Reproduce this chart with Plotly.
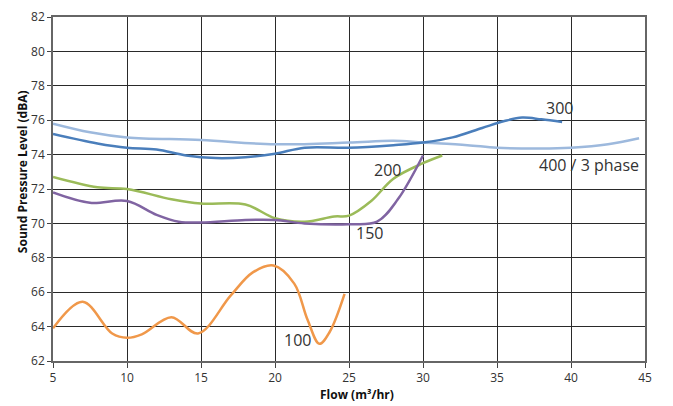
import plotly.graph_objects as go

# 400 / 3 phase
x400 = [5, 7.5, 10, 15, 20, 25, 28, 30, 33, 35, 38, 40, 42.5, 44.6]
y400 = [75.8, 75.3, 75.0, 74.85, 74.6, 74.7, 74.8, 74.7, 74.55, 74.4, 74.35, 74.4, 74.6, 74.95]

# 300
x300 = [5, 8, 10, 12, 14, 16, 18, 20, 22, 25, 28, 30, 32, 34, 35.5, 36.7, 38, 39.4]
y300 = [75.2, 74.65, 74.4, 74.3, 73.95, 73.8, 73.85, 74.05, 74.4, 74.4, 74.55, 74.7, 75.0, 75.55, 75.95, 76.15, 76.05, 75.9]

# 200
x200 = [5, 8, 10, 13, 15, 18, 20, 22, 24, 25, 26.5, 28, 30, 31.3]
y200 = [72.7, 72.1, 72.0, 71.4, 71.15, 71.1, 70.3, 70.1, 70.4, 70.45, 71.3, 72.6, 73.5, 73.95]

# 150
x150 = [5, 7.5, 10, 12, 13.5, 15, 18, 20, 22, 25, 26.9, 28.3, 30]
y150 = [71.8, 71.2, 71.3, 70.5, 70.1, 70.05, 70.2, 70.2, 70.0, 69.95, 70.1, 71.4, 73.95]

# 100
x100 = [5, 7, 9, 10, 11, 13, 14.8, 17, 18.5, 19.9, 21.3, 22.2, 23.0, 23.7, 24.7]
y100 = [63.9, 65.45, 63.6, 63.35, 63.55, 64.55, 63.6, 65.8, 67.15, 67.55, 66.5, 64.4, 63.0, 63.7, 65.9]

series = [
    (x400, y400, "#9db9dd", "400 / 3 phase"),
    (x300, y300, "#4a7ebb", "300"),
    (x200, y200, "#9bbb59", "200"),
    (x150, y150, "#8064a2", "150"),
    (x100, y100, "#f0984a", "100"),
]

labels = ["300", "400 / 3 phase", "200", "150", "100"]
label_x = [39.2, 41.2, 27.6, 26.4, 21.55]
label_y = [76.7, 73.4, 73.1, 69.45, 63.2]

x_ticks = [5, 10, 15, 20, 25, 30, 35, 40, 45]
y_ticks = [62, 64, 66, 68, 70, 72, 74, 76, 78, 80, 82]

FONT = "Open Sans, Noto Sans, sans-serif"

fig = go.Figure()
for xs, ys, col, name in series:
    fig.add_trace(go.Scatter(x=xs, y=ys, mode="lines", name=name,
                             line=dict(color=col, width=2.5, shape="spline", smoothing=1.0)))

for t, ax_, ay_ in zip(labels, label_x, label_y):
    fig.add_annotation(x=ax_, y=ay_, text=t, showarrow=False,
                       font=dict(size=16, color="#333333", family=FONT))

# axis titles
fig.add_annotation(xref="paper", yref="paper", x=0.5135, y=0, yanchor="middle", yshift=-33,
                   text="<b>Flow (m³/hr)</b>", showarrow=False,
                   font=dict(size=12, color="#111111", family=FONT))
fig.add_annotation(xref="paper", yref="paper", x=0, y=0.549, xanchor="center", yanchor="middle",
                   xshift=-31, textangle=-90,
                   text="<b>Sound Pressure Level (dBA)</b>", showarrow=False,
                   font=dict(size=12, color="#111111", family=FONT))

fig.update_layout(
    width=665, height=398,
    margin=dict(l=45, r=28, t=9, b=45),
    paper_bgcolor="white", plot_bgcolor="white",
    showlegend=False,
    font=dict(family=FONT, color="#333333"),
)
fig.update_xaxes(
    range=[5, 45], tickvals=x_ticks, ticktext=[str(v) for v in x_ticks],
    showgrid=True, gridcolor="#2a2a2a", gridwidth=1,
    showline=True, linecolor="#666666", linewidth=1.5, mirror=True,
    ticks="outside", ticklen=5, tickcolor="#444444",
    tickfont=dict(size=12, color="#333333"),
    zeroline=False, automargin=False,
)
fig.update_yaxes(
    range=[62, 82], tickvals=y_ticks, ticktext=[str(v) for v in y_ticks],
    showgrid=True, gridcolor="#2a2a2a", gridwidth=1,
    showline=True, linecolor="#666666", linewidth=1.5, mirror=True,
    ticks="outside", ticklen=4, tickcolor="#444444",
    tickfont=dict(size=12, color="#333333"),
    zeroline=False, automargin=False,
)

fig.write_html("out.html")
